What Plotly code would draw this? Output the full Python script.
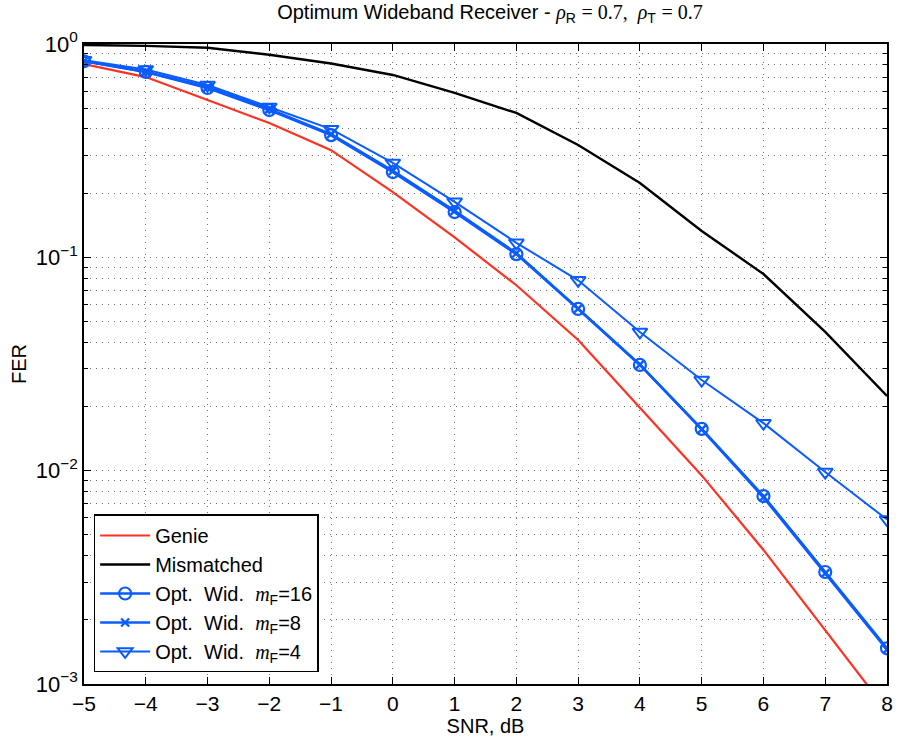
import plotly.graph_objects as go

snr = [-5, -4, -3, -2, -1, 0, 1, 2, 3, 4, 5, 6, 7, 8]
genie = [0.805, 0.70, 0.546, 0.426, 0.318, 0.202, 0.124, 0.074, 0.041, 0.0197, 0.0095, 0.00425, 0.00179, 0.00075]
mismatched = [0.99, 0.98, 0.96, 0.89, 0.81, 0.716, 0.59, 0.475, 0.336, 0.223, 0.133, 0.0835, 0.0447, 0.0224]
opt16 = [0.83, 0.74, 0.622, 0.49, 0.374, 0.251, 0.163, 0.1035, 0.0573, 0.0313, 0.0157, 0.0076, 0.00335, 0.00147]
opt8 = [0.832, 0.742, 0.628, 0.495, 0.378, 0.254, 0.165, 0.1045, 0.0575, 0.0314, 0.0156, 0.0075, 0.00330, 0.00145]
opt4 = [0.84, 0.76, 0.642, 0.507, 0.399, 0.277, 0.182, 0.117, 0.078, 0.0447, 0.0266, 0.0167, 0.00985, 0.0059]

ytick_vals = [1, 0.1, 0.01, 0.001]
ytick_text = ["10<sup>0</sup>", "10<sup>−1</sup>", "10<sup>−2</sup>", "10<sup>−3</sup>"]
xtick_vals = list(range(-5, 9))

RED = "#ff3222"
BLUE = "#0a5cff"
FONT = "Liberation Sans"
MATH = "Liberation Serif"

def mf(n):
    return ("Opt.\u00a0 Wid.\u00a0 <span style='font-family:%s'><i>m</i></span>"
            "<sub>F</sub>=%s" % (MATH, n))

fig = go.Figure()
fig.add_trace(go.Scatter(x=snr, y=genie, mode="lines", name="Genie",
                         line=dict(color=RED, width=2.2)))
fig.add_trace(go.Scatter(x=snr, y=mismatched, mode="lines", name="Mismatched",
                         line=dict(color="black", width=2.4)))
fig.add_trace(go.Scatter(x=snr, y=opt16, mode="lines+markers", name=mf(16),
                         line=dict(color=BLUE, width=2.6),
                         marker=dict(symbol="circle-open", size=12, color=BLUE,
                                     line=dict(width=2.2, color=BLUE))))
fig.add_trace(go.Scatter(x=snr, y=opt8, mode="lines+markers", name=mf(8),
                         line=dict(color=BLUE, width=2.6),
                         marker=dict(symbol="x-thin-open", size=8, color=BLUE,
                                     line=dict(width=2.4, color=BLUE))))
fig.add_trace(go.Scatter(x=snr, y=opt4, mode="lines+markers", name=mf(4),
                         line=dict(color=BLUE, width=2),
                         marker=dict(symbol="triangle-down-open", size=13, color=BLUE,
                                     line=dict(width=2, color=BLUE))))

grid_color = "rgba(70,70,70,0.75)"
grid_dash = "1px,5px"
title_text = ("Optimum Wideband Receiver - "
              "<span style='font-family:%s'><i>ρ</i></span><sub>R</sub> "
              "<span style='font-family:%s'>= 0.7,  <i>ρ</i></span><sub>T</sub> "
              "<span style='font-family:%s'>= 0.7</span>" % (MATH, MATH, MATH))
fig.update_layout(
    width=899, height=738,
    margin=dict(l=84, r=6, t=44, b=54),
    paper_bgcolor="white", plot_bgcolor="white",
    font=dict(family=FONT, size=21, color="black"),
    title=dict(text=title_text,
               x=0.545, xanchor="center", y=0.993, yanchor="top",
               font=dict(family=FONT, size=20)),
    showlegend=True,
    legend=dict(x=0.012, y=0.018, xanchor="left", yanchor="bottom",
                bgcolor="white", bordercolor="black", borderwidth=1.5,
                font=dict(family=FONT, size=20), tracegroupgap=0,
                itemwidth=50),
    xaxis=dict(range=[-5, 8], tickvals=xtick_vals, ticks="inside", ticklen=7,
               tickcolor="black", showline=True, linecolor="black", linewidth=1.5,
               mirror="ticks", showgrid=True, gridcolor=grid_color, griddash=grid_dash,
               gridwidth=1, zeroline=False,
               title=dict(text="SNR, dB", font=dict(size=20), standoff=0),
               tickfont=dict(size=21)),
    yaxis=dict(type="log", range=[-3, 0], tickvals=ytick_vals, ticktext=ytick_text,
               ticks="inside", ticklen=7, tickcolor="black", showline=True,
               linecolor="black", linewidth=1.5, mirror="ticks",
               showgrid=True, gridcolor=grid_color, griddash=grid_dash, gridwidth=1,
               zeroline=False,
               minor=dict(ticks="inside", ticklen=4, tickcolor="black",
                          showgrid=True, gridcolor=grid_color, griddash=grid_dash,
                          gridwidth=1, tickvals=[k * 10**e for e in (-3, -2, -1) for k in range(2, 10)]),
               title=dict(text="FER", font=dict(size=20), standoff=4),
               tickfont=dict(size=22)),
)

fig.write_html("out.html")
